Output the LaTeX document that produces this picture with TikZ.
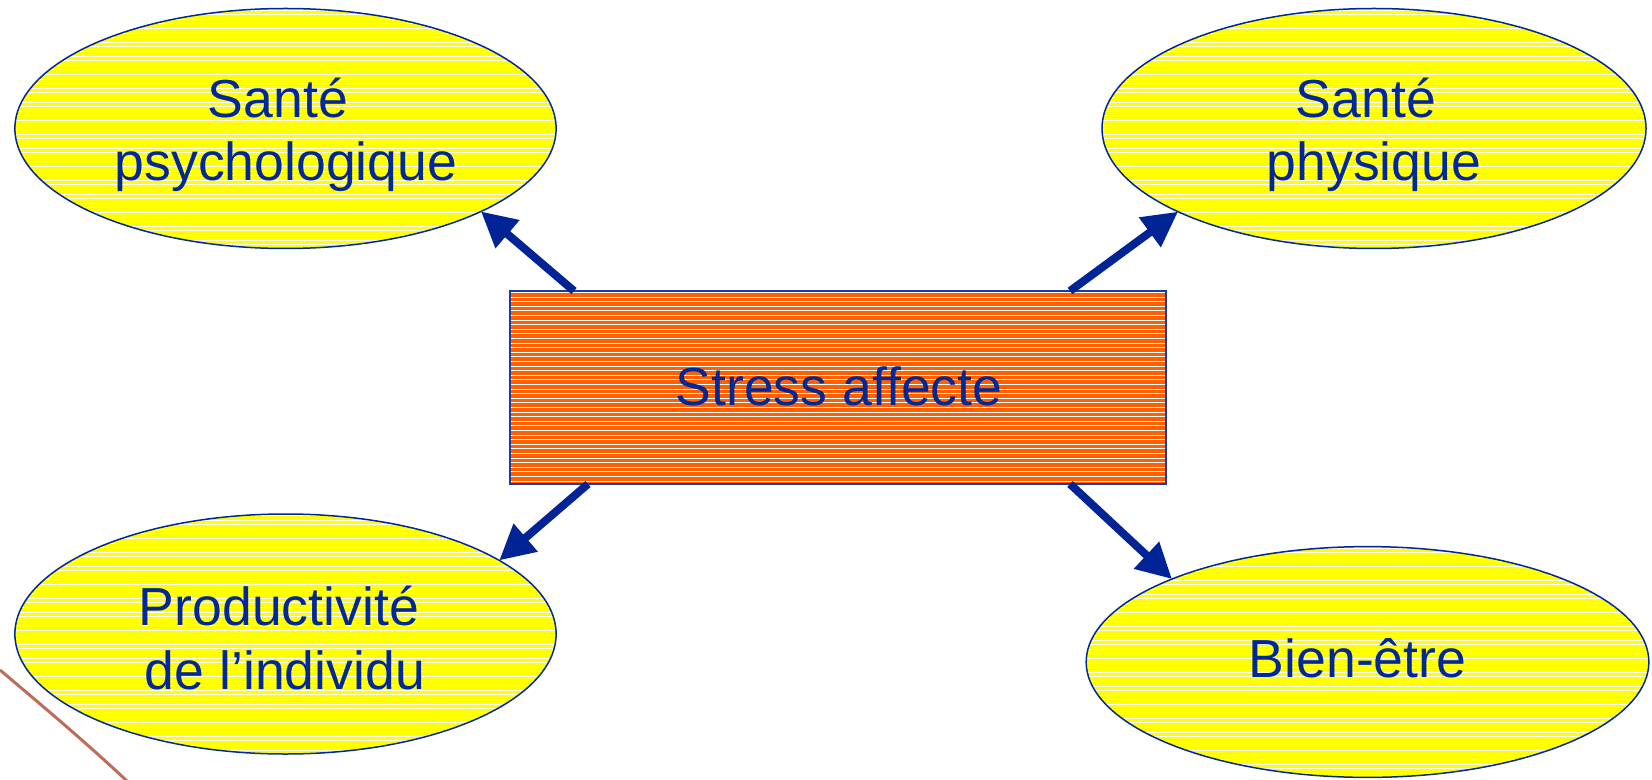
\documentclass[tikz,border=0pt]{standalone}
\usepackage{fontspec}
\setmainfont{Liberation Sans}
\usetikzlibrary{shapes.geometric,arrows.meta,calc}
\definecolor{navy}{RGB}{0,40,153}
\definecolor{arrowblue}{RGB}{0,36,150}
\definecolor{sunyellow}{RGB}{255,255,0}
\definecolor{hotorange}{RGB}{255,96,0}
\definecolor{rimblue}{RGB}{30,60,160}
\definecolor{swoosh}{RGB}{175,85,60}
\tikzset{
  stripes/.style={path picture={
    \foreach \k in {0,...,60}{
      \draw[white,line width=0.45pt]
        ($(path picture bounding box.north west)+(-2,1.5+\k*4.6)$) --
        ($(path picture bounding box.north east)+(2,1.5+\k*4.6)$);
    }}},
  bubble/.style={ellipse, draw=navy, line width=0.75pt, fill=sunyellow,
    stripes, inner sep=0pt, outer sep=0pt},
  mainbox/.style={rectangle, draw=rimblue, line width=1pt, fill=hotorange,
    stripes, inner sep=0pt, outer sep=0pt,
    minimum width=328pt, minimum height=96.5pt},
  lbl/.style={text=navy, font=\fontsize{26.8pt}{31.8pt}\selectfont,
    align=center, inner sep=0pt},
  arr/.style={draw=arrowblue, line width=4pt,
    -{Triangle[length=17.5pt,width=17.5pt]}},
}
\begin{document}
\begin{tikzpicture}[x=0.5pt,y=-0.5pt]
\useasboundingbox (0,0) rectangle (1652,780);
% decorative swoosh
\draw[swoosh, line width=1.5pt, opacity=0.85] (0,670) .. controls (45,708) and (90,746) .. (128,782);
% ellipses
\node[bubble, minimum width=270.6pt, minimum height=120pt] (e1) at (285.5,128.5) {};
\node[bubble, minimum width=272pt, minimum height=120pt] (e2) at (1374,128.5) {};
\node[bubble, minimum width=270.6pt, minimum height=120pt] (e3) at (285.5,634) {};
\node[bubble, minimum width=281.3pt, minimum height=115.4pt] (e4) at (1367.5,662) {};
% central box
\node[mainbox] (r) at (838,387.5) {};
% labels
\node[lbl] (t1) at (286,135) {Santé\kern8pt\\psychologique};
\node[lbl] (t2) at (1374,135) {Santé\kern8pt\\physique};
\node[lbl] (t3) at (285,638) {Productivité\kern6pt\\de l’individu};
\node[lbl, anchor=base] (t4) at (1357.5,677) {Bien-être};
\node[lbl, anchor=base] (t5) at (839,405) {Stress affecte};
% connectors
\coordinate (s1) at ($(r.north west)+(64,0)$);
\coordinate (s2) at ($(r.north east)+(-96,0)$);
\coordinate (s3) at ($(r.south west)+(78,0)$);
\coordinate (s4) at ($(r.south east)+(-96,0)$);
\draw[arr] (s1) -- (e1.-23.6);
\draw[arr] (s2) -- (e2.203.3);
\draw[arr] (s3) -- (e3.19.5);
\draw[arr] (s4) -- (e4.157.3);
\end{tikzpicture}
\end{document}
